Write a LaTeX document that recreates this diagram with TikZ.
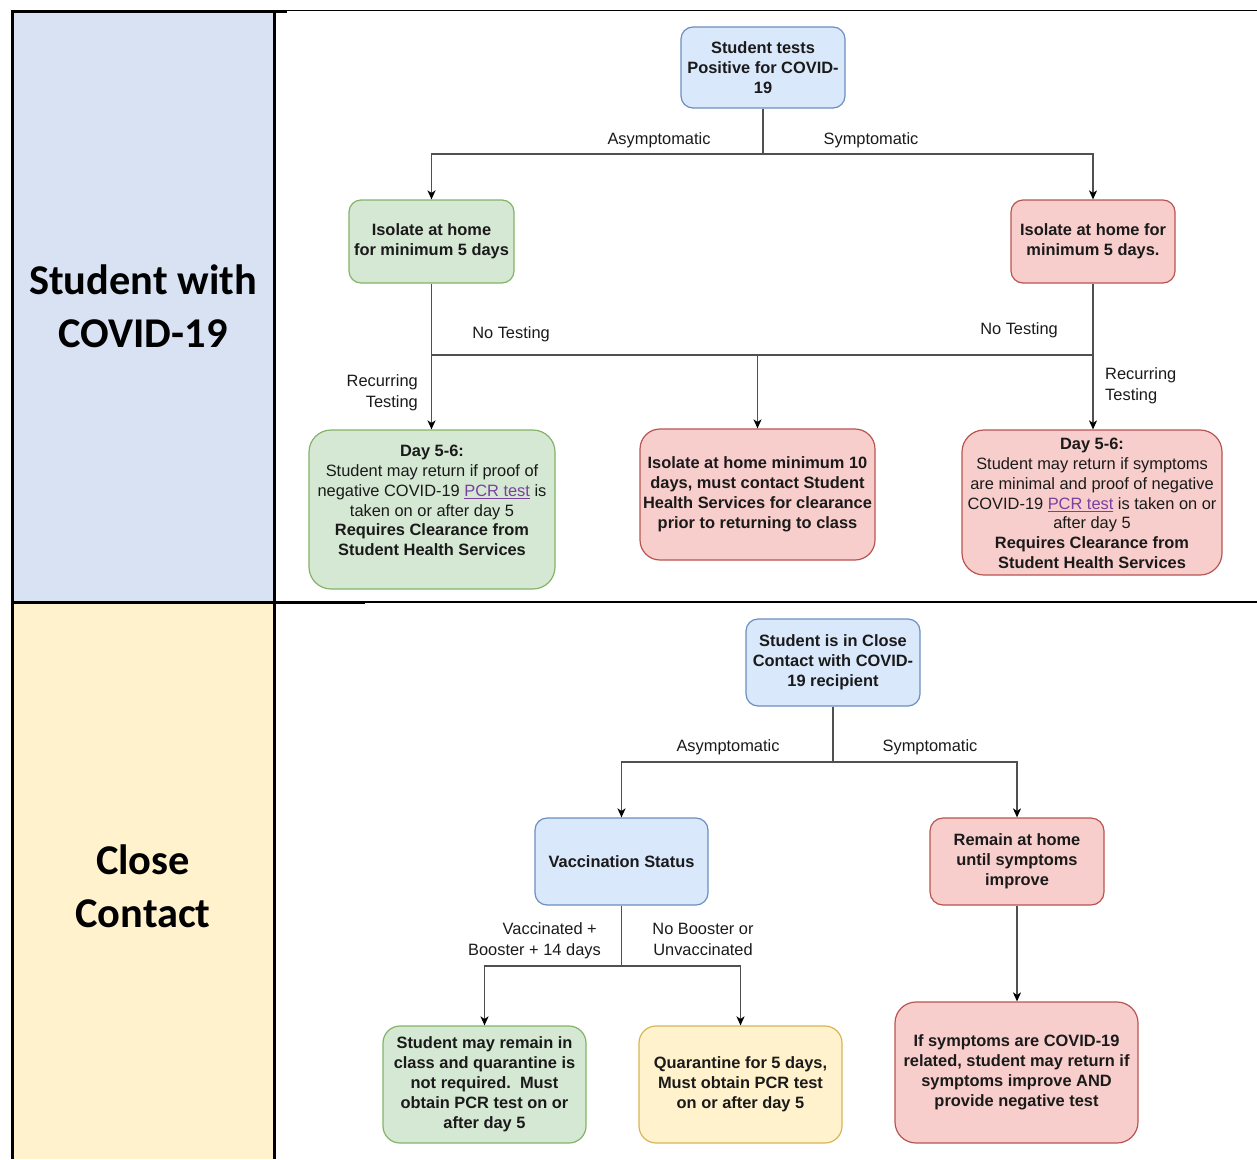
\documentclass[tikz,border=0pt]{standalone}
\usepackage{fontspec}
\setmainfont{Liberation Sans}
\newfontfamily\titlefont{Carlito}
\usetikzlibrary{arrows.meta}
\definecolor{cellblue}{HTML}{D9E2F3}
\definecolor{cellyellow}{HTML}{FFF2CC}
\definecolor{bfill}{HTML}{DAE8FC}\definecolor{bdraw}{HTML}{6C8EBF}
\definecolor{gfill}{HTML}{D5E8D4}\definecolor{gdraw}{HTML}{82B366}
\definecolor{rfill}{HTML}{F8CECC}\definecolor{rdraw}{HTML}{B85450}
\definecolor{yfill}{HTML}{FFF2CC}\definecolor{ydraw}{HTML}{D6B656}
\definecolor{linec}{HTML}{505050}
\definecolor{txt}{HTML}{1A1A1A}
\definecolor{linkc}{HTML}{7B3FA0}
\newcommand{\pcrlink}{{\color{linkc}\underline{PCR test}}}
\tikzset{
  boxbase/.style={rounded corners=#1, line width=1.2pt, inner sep=0pt, align=center,
    text=txt, font=\fontsize{16.4}{20}\selectfont\bfseries},
  bluebox/.style={boxbase=12pt, fill=bfill, draw=bdraw},
  greenbox/.style={boxbase=#1, fill=gfill, draw=gdraw},
  redbox/.style={boxbase=#1, fill=rfill, draw=rdraw},
  yellowbox/.style={boxbase=#1, fill=yfill, draw=ydraw},
  bodytext/.style={inner sep=0pt, align=center, text=txt, font=\fontsize{16.4}{19.8}\selectfont},
  lbl/.style={inner sep=0pt, text=txt, font=\fontsize{16.4}{21}\selectfont},
  conn/.style={draw=linec, line width=1.5pt},
  arr/.style={conn, -{Stealth[length=9pt,width=8pt,inset=2.5pt,color=black]}},
  title/.style={inner sep=0pt, align=center, text=black, font=\titlefont\fontsize{42.4}{53}\selectfont\bfseries},
}
\begin{document}
\begin{tikzpicture}[x=1pt,y=-1pt]
\useasboundingbox (0,0) rectangle (1257,1159);
% table
\fill[cellblue] (12,11) rectangle (274,602);
\fill[cellyellow] (12,602) rectangle (274,1159);
\draw[line width=1.5pt] (287,10.5) -- (1257,10.5);
\draw[line width=1.5pt] (365,602) -- (1257,602);
\draw[line width=3pt] (10.5,11) -- (287,11);
\draw[line width=3pt] (12,11) -- (12,1159);
\draw[line width=3pt] (274,11) -- (274,1159);
\draw[line width=3pt] (12,602) -- (365,602);
\node[title] (t1) at (143,306.5) {Student with\\COVID-19};
\node[title] (t2) at (143,886) {Close\\Contact};

% ---- top section
\node[bluebox, minimum width=164pt, minimum height=81pt] (A) at (763,67.5)
  {Student tests\\Positive for COVID-\\19};
\node[greenbox=12pt, minimum width=165pt, minimum height=83pt] (G1) at (431.5,241.5)
  {Isolate at home\\for minimum 5 days};
\node[redbox=12pt, minimum width=164pt, minimum height=83pt] (R1) at (1093,241.5)
  {Isolate at home for\\minimum 5 days.};
\node[greenbox=22pt, minimum width=246pt, minimum height=159pt] (G2) at (432,509.5) {};
\node[bodytext] (G2t) at (432,500.5)
  {\textbf{Day 5-6:}\\Student may return if proof of\\negative COVID-19 \pcrlink{} is\\taken on or after day 5\\\textbf{Requires Clearance from}\\\textbf{Student Health Services}};
\node[redbox=20pt, minimum width=235pt, minimum height=131pt] (R2) at (757.5,494.5)
  {Isolate at home minimum 10\\days, must contact Student\\Health Services for clearance\\prior to returning to class};
\node[redbox=22pt, minimum width=260pt, minimum height=145pt] (R3) at (1092,502.5) {};
\node[bodytext] (R3t) at (1092,503.5)
  {\textbf{Day 5-6:}\\Student may return if symptoms\\are minimal and proof of negative\\COVID-19 \pcrlink{} is taken on or\\after day 5\\\textbf{Requires Clearance from}\\\textbf{Student Health Services}};

\coordinate (j1) at (763,154);
\draw[conn] (A.south) -- (j1);
\draw[arr] (j1) -| (G1.north);
\draw[arr] (j1) -| (R1.north);
\node[lbl] (la1) at (659,140.5) {Asymptomatic};
\node[lbl] (ls1) at (871,140.5) {Symptomatic};

\coordinate (j2) at (431.5,355);
\coordinate (j3) at (1093,355);
\coordinate (j4) at (757.5,355);
\draw[arr] (G1.south) -- (G1.south |- G2.north);
\draw[arr] (R1.south) -- (R1.south |- R3.north);
\draw[conn] (j2) -- (j3);
\draw[arr] (j4) -- (R2.north);
\node[lbl] (nt1) at (511,334.5) {No Testing};
\node[lbl] (nt2) at (1019,330.5) {No Testing};
\node[lbl, align=right, anchor=east] (rt1) at (418,392.5) {Recurring\\Testing};
\node[lbl, align=left, anchor=west] (rt2) at (1105,386) {Recurring\\Testing};

% ---- bottom section
\node[bluebox, minimum width=174pt, minimum height=87pt] (B) at (833,662.5)
  {Student is in Close\\Contact with COVID-\\19 recipient};
\node[bluebox, minimum width=173pt, minimum height=87pt] (V) at (621.5,861.5)
  {Vaccination Status};
\node[redbox=13pt, minimum width=174pt, minimum height=87pt] (H) at (1017,861.5)
  {Remain at home\\until symptoms\\improve};
\node[greenbox=17pt, minimum width=203pt, minimum height=117pt] (S) at (484.5,1084.5)
  {Student may remain in\\class and quarantine is\\not required.\ \ Must\\obtain PCR test on or\\after day 5};
\node[yellowbox=17pt, minimum width=203pt, minimum height=117pt] (Q) at (740.5,1084.5)
  {Quarantine for 5 days,\\Must obtain PCR test\\on or after day 5};
\node[redbox=21pt, minimum width=243pt, minimum height=141pt] (I) at (1016.5,1072.5)
  {If symptoms are COVID-19\\related, student may return if\\symptoms improve AND\\provide negative test};

\coordinate (j5) at (833,762);
\draw[conn] (B.south) -- (j5);
\draw[arr] (j5) -| (V.north);
\draw[arr] (j5) -| (H.north);
\node[lbl] (la2) at (728,747.5) {Asymptomatic};
\node[lbl] (ls2) at (930,747.5) {Symptomatic};

\coordinate (j6) at (621.5,966);
\draw[conn] (V.south) -- (j6);
\draw[arr] (j6) -| (S.north);
\draw[arr] (j6) -| (Q.north);
\node[lbl, align=right, anchor=east] (vb) at (601,940.5) {Vaccinated +\hspace*{4pt}\\Booster + 14 days};
\node[lbl, align=center] (nb) at (703,939) {No Booster or\\Unvaccinated};
\draw[arr] (H.south) -- (H.south |- I.north);
\end{tikzpicture}
\end{document}
